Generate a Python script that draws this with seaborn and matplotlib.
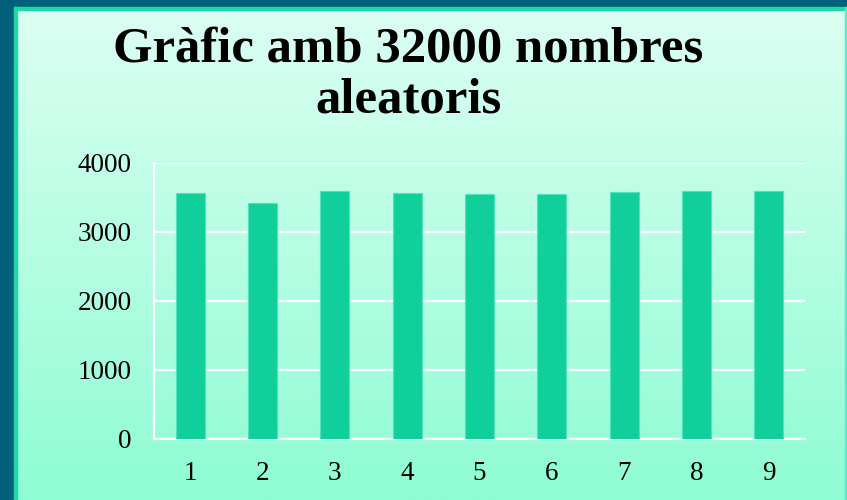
#!/usr/bin/env python3
"""
Bar chart of 32000 random numbers grouped by first digit.

Usage:
    python plot.py
"""

import numpy as np
import pandas as pd
import matplotlib.pyplot as plt
from matplotlib.patches import Rectangle
import seaborn as sns

# Data
CATEGORIES = ["1", "2", "3", "4", "5", "6", "7", "8", "9"]
COUNTS = [3567, 3417, 3596, 3562, 3543, 3548, 3577, 3591, 3599]
Y_TICKS = [0, 1000, 2000, 3000, 4000]
TITLE = "Gràfic amb 32000 nombres\naleatoris"

# Styling
FRAME_DARK = "#03607b"
FRAME_LINE = "#1fd8a8"
BG_TOP = np.array([0xdc, 0xff, 0xf2]) / 255
BG_BOTTOM = np.array([0x8e, 0xfc, 0xd4]) / 255
BAR_COLOR = "#11cf9b"
SERIF = ["Liberation Serif", "DejaVu Serif"]

W, H = 847, 500


def draw_background(fig):
    """Dark frame plus vertical mint gradient panel."""
    bg = fig.add_axes([0, 0, 1, 1], zorder=-10)
    bg.set_xlim(0, W)
    bg.set_ylim(H, 0)
    bg.axis("off")

    bg.add_patch(Rectangle((0, 0), W, H, color=FRAME_DARK))
    t = np.linspace(0, 1, 256)[:, None]
    grad = BG_TOP[None, :] * (1 - t) + BG_BOTTOM[None, :] * t
    grad = grad[:, None, :]
    bg.imshow(grad, extent=(16, W, H, 9), aspect="auto", zorder=1)
    # thin light edges of the panel
    bg.add_patch(Rectangle((14, 7), 2.5, H, color=FRAME_LINE, zorder=2))
    bg.add_patch(Rectangle((14, 7), W, 2.5, color=FRAME_LINE, zorder=2))
    bg.add_patch(Rectangle((W - 2, 7), 2, H, color="#5fe8c8", zorder=2))


def main():
    sns.set_theme(style="white")
    plt.rcParams["font.family"] = SERIF
    plt.rcParams["text.color"] = "black"

    df = pd.DataFrame({"digit": CATEGORIES, "count": COUNTS})

    fig = plt.figure(figsize=(W / 100, H / 100), dpi=100)
    draw_background(fig)

    ax = fig.add_axes([154 / W, 1 - 438.5 / H, 651 / W, 275.5 / H])
    ax.patch.set_alpha(0)

    sns.barplot(data=df, x="digit", y="count", color=BAR_COLOR,
                width=0.4, saturation=1, ax=ax, zorder=3,
                edgecolor="#4fe3bb", linewidth=0.8)

    ax.set_ylim(0, 4000)
    ax.set_yticks(Y_TICKS)
    ax.set_yticklabels([str(v) for v in Y_TICKS])
    ax.set_xlim(-0.5, len(CATEGORIES) - 0.5)
    ax.set_xlabel("")
    ax.set_ylabel("")

    ax.yaxis.grid(True, color="white", linewidth=1.6, zorder=1)
    ax.set_axisbelow(True)
    for side in ["top", "right"]:
        ax.spines[side].set_visible(False)
    for side in ["left", "bottom"]:
        ax.spines[side].set_color("white")
        ax.spines[side].set_linewidth(1.6)

    ax.tick_params(axis="both", length=0, labelsize=19.5, colors="black")
    ax.tick_params(axis="y", pad=16)
    ax.tick_params(axis="x", pad=16)

    fig.text(408 / W, 1 - 26 / H, TITLE, ha="center", va="top",
             fontsize=36.5, fontweight="bold", linespacing=1.15,
             family=SERIF, color="black")

    fig.savefig("out.png", dpi=100)
    plt.close(fig)


if __name__ == "__main__":
    main()
